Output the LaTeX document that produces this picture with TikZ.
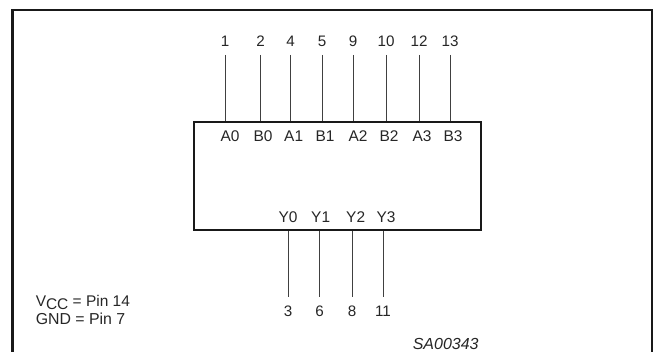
\documentclass[tikz,border=0pt]{standalone}
\usepackage{fontspec}
\setmainfont{Liberation Sans}
\tikzset{
    frameline/.style={line width=1.7pt, black!90},
    pinline/.style={line width=0.55pt, black!75},
    pinnum/.style={inner sep=0pt, inner ysep=6.4pt, text height=8.2pt, text depth=0pt, font=\fontsize{11.4}{13}\selectfont, text=black!85},
    pinname/.style={inner sep=0pt, text height=8.2pt, text depth=0pt, font=\fontsize{11.6}{13}\selectfont, text=black!85},
}
\begin{document}
\begin{tikzpicture}[x=0.75pt,y=-0.75pt]
    \useasboundingbox (0,0) rectangle (654,352);
    % Frame
    \coordinate (F1) at (12.5,352);
    \coordinate (F2) at (12.5,10);
    \coordinate (F3) at (652,10);
    \coordinate (F4) at (652,352);
    \draw [frameline] (F1) -- (F2) -- (F3) -- (F4);
    % Chip
    \node [draw, frameline, inner sep=0pt, minimum width=215.5pt, minimum height=80.5pt] (chip) at (337.5,176) {};
    % Inputs
    \foreach \x/\lx/\n/\s in {225/230/1/A0, 260.5/263/2/B0, 290.5/293.7/4/A1, 322/325/5/B1, 353/358/9/A2, 386/389/10/B2, 419/422/12/A3, 450/453/13/B3} {
        \node [pinnum, anchor=south] (pin\n) at (\x,55) {\n};
        \node [pinname] (name\s) at (\lx,136.5) {\s};
        \draw [pinline] (pin\n.south) -- (pin\n.south |- chip.north);
    }
    % Outputs
    \foreach \x/\lx/\n/\s in {288/288/3/Y0, 319.5/320.7/6/Y1, 352/355.7/8/Y2, 383/386/11/Y3} {
        \node [pinnum, anchor=north] (pin\n) at (\x,297) {\n};
        \node [pinname] (name\s) at (\lx,216.7) {\s};
        \draw [pinline] (pin\n.north) -- (pin\n.north |- chip.south);
    }
    % Writing space
    \node [pinname, anchor=west] (vcc) at (35.5,300.7) {V\raisebox{-2.2pt}{CC} = Pin 14};
    \node [pinname, anchor=west, font=\fontsize{11.9}{13}\selectfont] (gnd) at (35.5,319) {GND = Pin 7};
    \node [pinname, font=\fontsize{12}{14}\selectfont\itshape] (code) at (445.7,344.5) {SA00343};
\end{tikzpicture}
\end{document}
